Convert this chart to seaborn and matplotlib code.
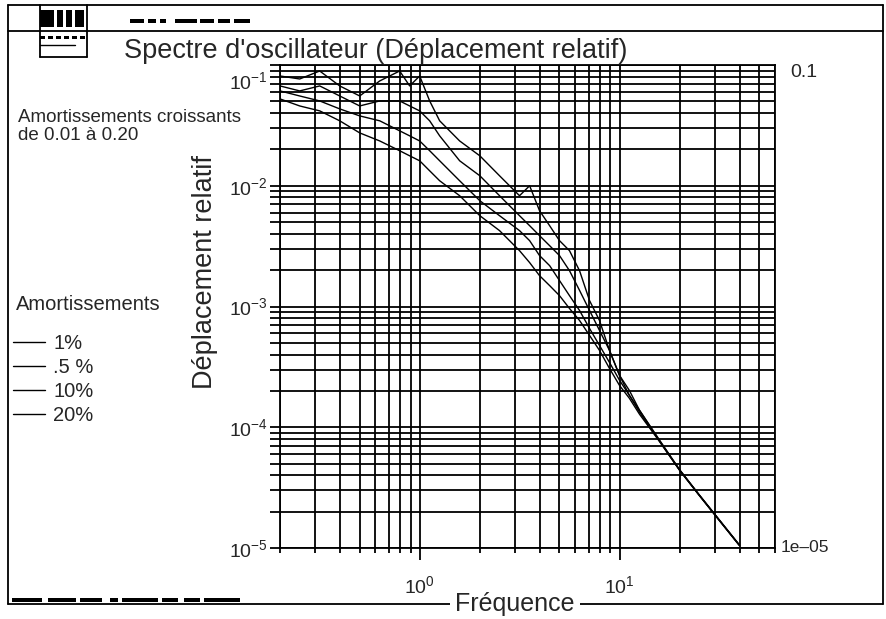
import matplotlib
matplotlib.use('Agg')
import matplotlib.pyplot as plt
from matplotlib.lines import Line2D
from matplotlib.patches import Rectangle
from matplotlib.ticker import NullFormatter
from matplotlib.transforms import ScaledTranslation
import pandas as pd
import seaborn as sns

# Fréquences (Hz) communes aux quatre spectres
frequence = [0.2, 0.251, 0.316, 0.398, 0.501, 0.631, 0.794, 0.891, 1.0, 1.122,
             1.259, 1.585, 2.0, 2.51, 3.16, 3.55, 3.98, 4.47, 5.01, 5.62,
             6.31, 7.08, 7.94, 8.91, 10.0, 11.2, 12.6, 15.8, 20.0, 25.1,
             31.6, 39.8]

# Déplacement relatif, un tableau par amortissement
depl_1 = [0.0811, 0.0766, 0.0892, 0.0671, 0.0554, 0.0738, 0.0892, 0.0671, 0.0811, 0.0504,
          0.0345, 0.0235, 0.0177, 0.0121, 0.00827, 0.0100, 0.00621, 0.00467, 0.00351, 0.00290,
          0.00198, 0.00112, 0.000766, 0.000433, 0.000269, 0.000184, 0.000138, 7.81e-5, 4.42e-5, 2.74e-5,
          1.70e-5, 1.06e-5]
depl_5 = [0.0671, 0.0610, 0.0671, 0.0554, 0.0458, 0.0504, 0.0504, 0.0458, 0.0417, 0.0345,
          0.0259, 0.0161, 0.0121, 0.00827, 0.00565, 0.00467, 0.00386, 0.00319, 0.00264, 0.00198,
          0.00136, 0.000927, 0.000634, 0.000433, 0.000269, 0.000202, 0.000138, 7.9e-5, 4.45e-5, 2.75e-5,
          1.71e-5, 1.06e-5]
depl_10 = [0.0610, 0.0554, 0.0504, 0.0433, 0.0379, 0.0345, 0.0285, 0.0259, 0.0235, 0.0195,
           0.0161, 0.0110, 0.00752, 0.00565, 0.00425, 0.00351, 0.00264, 0.00218, 0.00164, 0.00123,
           0.000927, 0.000658, 0.000476, 0.000344, 0.000245, 0.000184, 0.000133, 7.7e-5, 4.4e-5, 2.72e-5,
           1.69e-5, 1.05e-5]
depl_20 = [0.0524, 0.0458, 0.0417, 0.0345, 0.0274, 0.0235, 0.0195, 0.0177, 0.0161, 0.0133,
           0.0110, 0.00827, 0.00565, 0.00425, 0.00290, 0.00231, 0.00180, 0.00149, 0.00123, 0.000963,
           0.000766, 0.000576, 0.000433, 0.000307, 0.000222, 0.000174, 0.000128, 7.7e-5, 4.4e-5, 2.72e-5,
           1.69e-5, 1.05e-5]

amortissements = ['1%', '.5 %', '10%', '20%']
series = [depl_1, depl_5, depl_10, depl_20]

df = pd.concat([pd.DataFrame({'Fréquence': frequence, 'Déplacement': s, 'Amortissement': a})
                for a, s in zip(amortissements, series)], ignore_index=True)

sns.set_style('ticks')
plt.rcParams['font.family'] = ['Liberation Sans', 'DejaVu Sans']
plt.rcParams['mathtext.fontset'] = 'custom'
plt.rcParams['mathtext.rm'] = 'Liberation Sans'
plt.rcParams['axes.unicode_minus'] = True

W, H = 887, 619
fig = plt.figure(figsize=(W / 100, H / 100), dpi=100)
ax = fig.add_axes([280 / W, 1 - 548 / H, 495 / W, 483 / H])

sns.lineplot(data=df, x='Fréquence', y='Déplacement', hue='Amortissement',
             hue_order=amortissements, palette={a: 'black' for a in amortissements},
             estimator=None, lw=1.0, ax=ax)

ax.set_xscale('log')
ax.set_yscale('log')
ax.set_xlim(0.2, 60)
ax.set_ylim(1e-5, 1e-1)
ax.grid(True, which='both', color='black', lw=1.3)
ax.xaxis.set_minor_formatter(NullFormatter())
ax.yaxis.set_minor_formatter(NullFormatter())
for sp in ax.spines.values():
    sp.set_color('black')
    sp.set_linewidth(1.3)
ax.tick_params(axis='x', which='major', length=8.5, width=1.3, pad=11, labelsize=14, color='black')
ax.tick_params(axis='x', which='minor', length=3.6, width=1.3, color='black')
ax.tick_params(axis='y', which='both', length=7, width=1.3, pad=2, labelsize=14, color='black')
ax.set_xlabel('')
ax.set_ylabel('')

# étiquettes de droite
ax.text(1.03, 0.985, '0.1', transform=ax.transAxes, fontsize=14, va='center', ha='left')
ax.text(1.012, 0.0, '1e\u201305', transform=ax.transAxes, fontsize=12.5, va='center', ha='left')

# légende
sns.move_legend(ax, loc='upper left', bbox_to_anchor=(13 / W, 1 - 334 / H),
                bbox_transform=fig.transFigure, frameon=False, title=None,
                fontsize=14.5, handlelength=1.6, handletextpad=0.4,
                labelspacing=0.25, borderaxespad=0, borderpad=0)
fig.text(16 / W, 1 - 310 / H, 'Amortissements', fontsize=14.5, ha='left', va='baseline')

fig.text(376 / W, 1 - 51 / H, "Spectre d'oscillateur (Déplacement relatif)",
         fontsize=19.5, ha='center', va='center')
fig.text(205 / W, 1 - 272 / H, 'Déplacement relatif', fontsize=19.5,
         rotation=90, ha='center', va='center')
fig.text(18 / W, 1 - 109 / H, 'Amortissements croissants\nde 0.01 à 0.20',
         fontsize=13.5, ha='left', va='top', linespacing=1.05)
fig.text(515 / W, 1 - 604 / H, 'Fréquence', fontsize=18, ha='center', va='center',
         bbox=dict(facecolor='white', edgecolor='none', pad=4))

# cadre de la page
def ligne(x0, y0, x1, y1, lw=1.3):
    fig.add_artist(Line2D([x0 / W, x1 / W], [1 - y0 / H, 1 - y1 / H], color='black',
                          lw=lw, zorder=0))

def bloc(x, y, w, h):
    fig.add_artist(Rectangle((x / W, 1 - (y + h) / H), w / W, h / H,
                             facecolor='black', edgecolor='none'))

ligne(8, 5, 883, 5)
ligne(8, 31, 883, 31)
ligne(8, 5, 8, 604)
ligne(883, 5, 883, 604)
ligne(8, 604, 883, 604)
ligne(40, 5, 40, 57)
ligne(87, 5, 87, 57)
ligne(40, 57, 87, 57)
ligne(40, 45, 75, 45, lw=1)
for x, w in [(40, 14), (57, 6), (66, 6), (75, 9)]:
    bloc(x, 10, w, 17)
for x in [40, 48, 56, 64, 72, 80]:
    bloc(x, 36, 5, 3)
for x, w in [(130, 14), (148, 8), (160, 6), (175, 22), (200, 14), (218, 12), (234, 16)]:
    bloc(x, 19, w, 4)
for x, w in [(12, 30), (48, 28), (80, 22), (110, 8), (122, 36), (162, 16), (184, 16), (204, 36)]:
    bloc(x, 598, w, 4)

# l'étiquette 10^-1 est décalée vers le bas sous le titre
fig.canvas.draw()
for tick in ax.yaxis.get_major_ticks():
    if abs(tick.get_loc() - 0.1) < 1e-9:
        tick.label1.set_transform(tick.label1.get_transform()
                                  + ScaledTranslation(0, -11 / 72, fig.dpi_scale_trans))

plt.savefig('out.png', dpi=100)
plt.close()
